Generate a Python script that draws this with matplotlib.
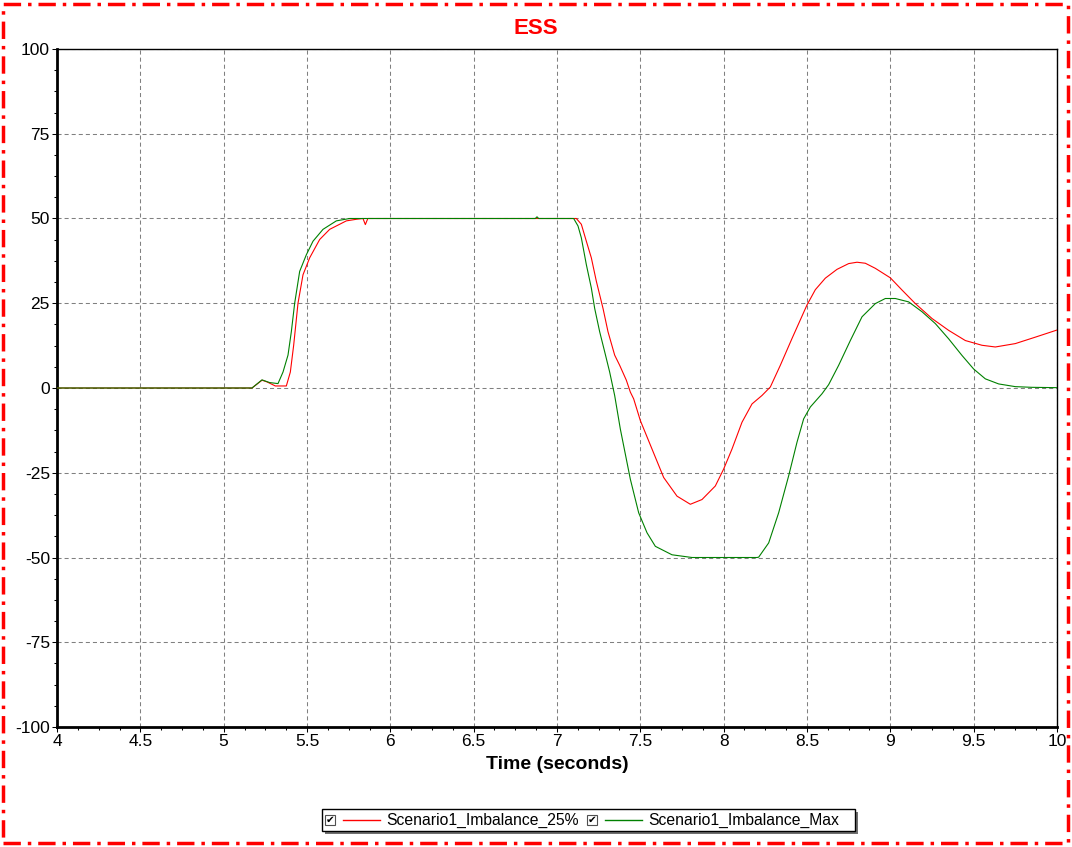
import matplotlib.pyplot as plt
from matplotlib.patches import Rectangle
from matplotlib.lines import Line2D
from matplotlib.ticker import MultipleLocator, FuncFormatter

plt.rcParams['font.family'] = ['Liberation Sans', 'DejaVu Sans']

# Scenario1_Imbalance_25% (red)
t_red = [4.0, 5.17, 5.23, 5.26, 5.31, 5.376, 5.40, 5.42, 5.446, 5.476, 5.516, 5.576,
         5.636, 5.736, 5.80, 5.836, 5.85, 5.865, 5.9, 7.0, 7.116, 7.146, 7.176, 7.206,
         7.236, 7.276, 7.306, 7.346, 7.376, 7.416, 7.44, 7.46, 7.5, 7.57, 7.64, 7.72,
         7.80, 7.87, 7.95, 8.0, 8.05, 8.11, 8.17, 8.23, 8.28, 8.34, 8.41, 8.5,
         8.55, 8.61, 8.68, 8.75, 8.80, 8.85, 8.91, 9.0, 9.07, 9.15, 9.25, 9.35,
         9.45, 9.55, 9.63, 9.75, 9.87, 10.0]
v_red = [0, 0, 2.3, 1.8, 0.6, 0.6, 4.7, 12.6, 25, 33.4, 38.4, 43.8,
         46.8, 49.3, 49.8, 50, 48.2, 50, 50, 50, 50, 48.3, 43.3, 38.4,
         31.5, 23.5, 16.6, 9.7, 6.7, 2.3, -1.2, -3.2, -9.6, -18, -26.4, -31.9,
         -34.3, -32.9, -28.9, -23.9, -18, -10.1, -4.7, -2.2, 0.3, 6.7, 14.6, 24.5,
         29, 32.4, 35.0, 36.7, 37.1, 36.8, 35.3, 32.5, 28.9, 24.9, 20.5, 17,
         14, 12.6, 12.1, 13.1, 15, 17.1]

# Scenario1_Imbalance_Max (green)
t_grn = [4.0, 5.17, 5.23, 5.276, 5.326, 5.356, 5.386, 5.406, 5.426, 5.456, 5.496, 5.536,
         5.596, 5.676, 5.756, 5.825, 6.87, 6.88, 6.89, 7.10, 7.126, 7.146, 7.176, 7.206,
         7.226, 7.256, 7.286, 7.316, 7.346, 7.38, 7.44, 7.49, 7.54, 7.59, 7.69,
         7.81, 8.20, 8.21, 8.27, 8.33, 8.39, 8.44, 8.48, 8.52, 8.59, 8.63, 8.69,
         8.76, 8.83, 8.91, 8.97, 9.03, 9.11, 9.19, 9.27, 9.35, 9.43, 9.50, 9.57,
         9.65, 9.75, 9.85, 10.0]
v_grn = [0, 0, 2.4, 1.6, 1.3, 4.7, 9.7, 16.6, 25, 34.4, 39.3, 43.3,
         46.8, 49.3, 50, 50, 50, 50.5, 50, 50, 47.8, 44.3, 36.4, 29.5,
         23.5, 16.6, 10.7, 4.7, -2.2, -12.1, -26.9, -36.8, -42.7, -46.7, -49.2,
         -50, -50, -49.9, -45.7, -36.8, -25.9, -16, -9.1, -5.6, -1.7, 1, 6.7,
         14, 21, 24.9, 26.4, 26.4, 25.4, 22.5, 19, 14.5, 9.6, 5.6, 2.7,
         1.2, 0.4, 0.2, 0.1]

labels = ['Scenario1_Imbalance_25%', 'Scenario1_Imbalance_Max']
colors = ['#ff0000', '#008000']

W, H = 1072, 847
fig = plt.figure(figsize=(W / 100, H / 100), dpi=100)
ax = fig.add_axes([57 / W, 1 - 727 / H, 1000 / W, 678 / H])

ax.plot(t_red, v_red, color=colors[0], lw=0.8, zorder=3)
ax.plot(t_grn, v_grn, color=colors[1], lw=0.8, zorder=4)

ax.set_xlim(4, 10)
ax.set_ylim(-100, 100)
ax.xaxis.set_major_locator(MultipleLocator(0.5))
ax.xaxis.set_minor_locator(MultipleLocator(0.125))
ax.yaxis.set_major_locator(MultipleLocator(25))
ax.yaxis.set_minor_locator(MultipleLocator(6.25))
ax.xaxis.set_major_formatter(FuncFormatter(lambda v, p: f'{v:g}'))
ax.yaxis.set_major_formatter(FuncFormatter(lambda v, p: f'{v:g}'))
ax.tick_params(which='major', direction='out', length=3.6, width=0.75, labelsize=12.5, pad=1.5)
ax.tick_params(which='minor', direction='out', length=2.2, width=0.75)
ax.grid(True, which='major', color='#808080', ls=(0, (3.9, 2.9)), lw=0.75)

for s in ['left', 'bottom']:
    ax.spines[s].set_linewidth(2)
for s in ['top', 'right']:
    ax.spines[s].set_linewidth(1)

ax.set_xlabel('Time (seconds)', fontsize=14, fontweight='bold', labelpad=5)
fig.text(536 / W, 1 - 28 / H, 'ESS', color='#ff0000', fontsize=16, fontweight='bold',
         ha='center', va='center')

# outer dash-dot border
fig.patches.append(Rectangle((3 / W, 4 / H), (W - 7) / W, (H - 8) / H, transform=fig.transFigure,
                             fill=False, ec='#ff0000', lw=2.5, ls=(0, (5, 2, 1, 2))))


# legend drawn by hand, with the checkbox look
def fx(px):
    return px / W


def fy(py):
    return 1 - py / H


fig.patches.append(Rectangle((fx(325), fy(834)), fx(533), 22 / H, transform=fig.transFigure,
                             fc='#707070', ec='none'))
fig.patches.append(Rectangle((fx(322), fy(831)), fx(533), 22 / H, transform=fig.transFigure,
                             fc='white', ec='black', lw=1))
for x0, lab, c in zip([325, 587], labels, colors):
    fig.patches.append(Rectangle((fx(x0), fy(825)), 10 / W, 10 / H, transform=fig.transFigure,
                                 fc='white', ec='#505050', lw=0.8))
    fig.text(fx(x0 + 5), fy(820), '\u2714', fontsize=7.5, ha='center', va='center',
             family=['DejaVu Sans'])
    fig.lines.append(Line2D([fx(x0 + 18), fx(x0 + 55)], [fy(820), fy(820)],
                            transform=fig.transFigure, color=c, lw=1))
    fig.text(fx(x0 + 61), fy(820), lab, fontsize=11.3, ha='left', va='center')

fig.savefig('out.png', dpi=100)
